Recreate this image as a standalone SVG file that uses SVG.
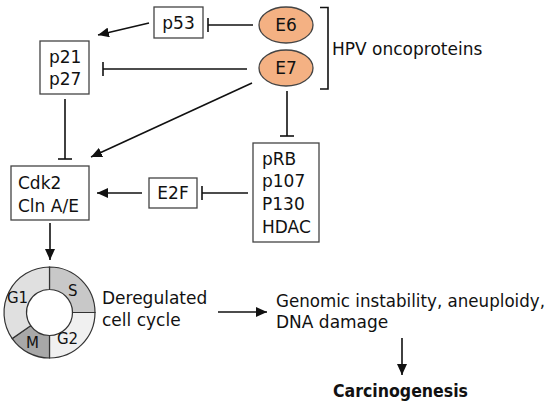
<svg xmlns="http://www.w3.org/2000/svg" width="550" height="406" viewBox="0 0 550 406">
<defs>
<style>
text{font-family:"DejaVu Sans","Open Sans",sans-serif;font-size:17px;fill:#111}
.box{fill:#fff;stroke:#444;stroke-width:1.3}
.onc{fill:#f4b183;stroke:#444;stroke-width:1.3}
.ln{stroke:#111;stroke-width:1.6;fill:none}
.ph{font-size:15px}
.ring{stroke:#333;stroke-width:1.2}
</style>
<marker id="arr" markerUnits="userSpaceOnUse" markerWidth="12" markerHeight="10" refX="11" refY="5" orient="auto">
<path d="M0,0 L11,5 L0,10 Z" fill="#111"/>
</marker>
<marker id="tee" markerUnits="userSpaceOnUse" markerWidth="4" markerHeight="16" refX="1.5" refY="7" orient="auto">
<path d="M1.5,0 L1.5,14" stroke="#111" stroke-width="1.6"/>
</marker>
</defs>
<rect width="550" height="406" fill="#fff"/>
<g id="connectors">
<line class="ln" x1="253" y1="25" x2="208" y2="25" marker-end="url(#tee)"/>
<line class="ln" x1="149" y1="23" x2="98" y2="35" marker-end="url(#arr)"/>
<line class="ln" x1="247" y1="69" x2="103" y2="69" marker-end="url(#tee)"/>
<line class="ln" x1="252" y1="83" x2="91" y2="157" marker-end="url(#arr)"/>
<line class="ln" x1="287" y1="91" x2="287" y2="136" marker-end="url(#tee)"/>
<line class="ln" x1="65" y1="99" x2="65" y2="159" marker-end="url(#tee)"/>
<line class="ln" x1="248" y1="193" x2="202" y2="193" marker-end="url(#tee)"/>
<line class="ln" x1="142" y1="193" x2="97" y2="193" marker-end="url(#arr)"/>
<line class="ln" x1="50" y1="223" x2="50" y2="260" marker-end="url(#arr)"/>
<line class="ln" x1="218" y1="312" x2="267" y2="312" marker-end="url(#arr)"/>
<line class="ln" x1="402" y1="338" x2="402" y2="375" marker-end="url(#arr)"/>
<path class="ln" d="M320,7.5 H328 V89 H320"/>
</g>
<g id="p53"><rect class="box" x="154" y="7" width="49" height="31"/><text x="178.5" y="29" text-anchor="middle">p53</text></g>
<g id="E6"><ellipse class="onc" cx="286" cy="25" rx="27" ry="18"/><text x="286" y="31" text-anchor="middle">E6</text></g>
<g id="E7"><ellipse class="onc" cx="286" cy="68" rx="27" ry="18"/><text x="286" y="74" text-anchor="middle">E7</text></g>
<g id="hpv"><text x="332" y="55">HPV oncoproteins</text></g>
<g id="p21"><rect class="box" x="40" y="41" width="49" height="53"/><text x="49" y="63">p21</text><text x="49" y="85">p27</text></g>
<g id="cdk2"><rect class="box" x="11" y="166" width="78" height="54"/><text x="18" y="189">Cdk2</text><text x="18" y="212">Cln A/E</text></g>
<g id="e2f"><rect class="box" x="149" y="178" width="48" height="30"/><text x="173" y="199" text-anchor="middle">E2F</text></g>
<g id="prb"><rect class="box" x="253" y="143" width="66" height="99"/><text x="262" y="165">pRB</text><text x="262" y="187">p107</text><text x="262" y="210">P130</text><text x="262" y="233">HDAC</text></g>
<g id="cellcycle">
<path class="ring" fill="#c8c8c8" d="M49.5,267 A45.5,45.5 0 0 1 95,312.5 L72.5,312.5 A23,23 0 0 0 49.5,289.5 Z"/>
<path class="ring" fill="#f0f0f0" d="M95,312.5 A45.5,45.5 0 0 1 49.5,358 L49.5,335.5 A23,23 0 0 0 72.5,312.5 Z"/>
<path class="ring" fill="#a8a8a8" d="M49.5,358 A45.5,45.5 0 0 1 12.23,338.6 L30.66,325.69 A23,23 0 0 0 49.5,335.5 Z"/>
<path class="ring" fill="#e0e0e0" d="M12.23,338.6 A45.5,45.5 0 0 1 49.5,267 L49.5,289.5 A23,23 0 0 0 30.66,325.69 Z"/>
<text class="ph" x="7" y="303">G1</text>
<text class="ph" x="68" y="296">S</text>
<text class="ph" x="26" y="348">M</text>
<text class="ph" x="57" y="344">G2</text>
</g>
<g id="dereg"><text x="102" y="304">Deregulated</text><text x="102" y="326">cell cycle</text></g>
<g id="genomic"><text x="276" y="307" textLength="269" lengthAdjust="spacingAndGlyphs">Genomic instability, aneuploidy,</text><text x="276" y="328">DNA damage</text></g>
<g id="carcino"><text x="333" y="397" font-weight="bold" textLength="135" lengthAdjust="spacingAndGlyphs">Carcinogenesis</text></g>
</svg>
